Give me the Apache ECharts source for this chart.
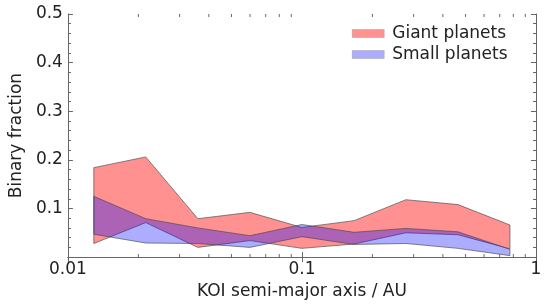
<!DOCTYPE html>
<html>
<head>
<meta charset="utf-8">
<script src="https://cdn.jsdelivr.net/npm/echarts@6/dist/echarts.min.js"></script>
<style>
html,body{margin:0;padding:0;background:#fff;}
#chart{width:546px;height:305px;}
</style>
</head>
<body>
<div id="chart"></div>
<script>
// Bin centres (KOI semi-major axis, AU)
const axisBins = [0.0129, 0.0215, 0.0359, 0.0599, 0.1, 0.167, 0.278, 0.464, 0.774];
// Giant planets binary fraction band
const giantUpper = [0.184, 0.206, 0.079, 0.092, 0.061, 0.075, 0.118, 0.108, 0.066];
const giantLower = [0.028, 0.071, 0.020, 0.034, 0.018, 0.027, 0.050, 0.046, 0.017];
// Small planets binary fraction band
const smallUpper = [0.125, 0.079, 0.060, 0.044, 0.067, 0.051, 0.059, 0.052, 0.016];
const smallLower = [0.047, 0.029, 0.028, 0.020, 0.042, 0.026, 0.028, 0.018, 0.003];
// Log-axis minor tick positions
const xMinorTicks = [0.02,0.03,0.04,0.05,0.06,0.07,0.08,0.09,0.2,0.3,0.4,0.5,0.6,0.7,0.8,0.9];
const seriesNames = ['Giant planets', 'Small planets'];

const FONT = 'DejaVu Sans';
const FS = 17;
const RED = 'rgba(255,0,0,0.43)';
const BLUE = 'rgba(0,0,255,0.32)';
const FRAME = '#666';

function bandRender(upper, lower, fill) {
  return function (params, api) {
    const pts = [];
    for (let i = 0; i < axisBins.length; i++) pts.push(api.coord([axisBins[i], upper[i]]));
    for (let i = axisBins.length - 1; i >= 0; i--) pts.push(api.coord([axisBins[i], lower[i]]));
    return {
      type: 'polygon',
      shape: { points: pts },
      style: { fill: fill, stroke: 'rgba(70,70,70,0.65)', lineWidth: 1 }
    };
  };
}

const chart = echarts.init(document.getElementById('chart'), null, { renderer: 'canvas' });
chart.setOption({
  animation: false,
  textStyle: { fontFamily: FONT },
  grid: { left: 58, right: 10, top: 14, bottom: 45 },
  legend: {
    orient: 'vertical',
    left: 352,
    top: 25,
    padding: 0,
    itemWidth: 32,
    itemHeight: 8,
    itemGap: 4,
    icon: 'rect',
    textStyle: { fontFamily: FONT, fontSize: FS, color: '#222', padding: [0, 0, 0, 3] },
    data: [
      { name: seriesNames[0], itemStyle: { color: RED, borderColor: 'rgba(120,120,120,0.6)', borderWidth: 0.5 } },
      { name: seriesNames[1], itemStyle: { color: BLUE, borderColor: 'rgba(120,120,120,0.6)', borderWidth: 0.5 } }
    ]
  },
  xAxis: [
    {
      type: 'log', logBase: 10, min: 0.01, max: 1,
      name: 'KOI semi-major axis / AU', nameLocation: 'middle', nameGap: 19,
      nameTextStyle: { fontFamily: FONT, fontSize: FS, color: '#222' },
      axisLine: { show: true, lineStyle: { color: FRAME, width: 1 } },
      axisTick: { show: true, inside: true, length: 5, lineStyle: { color: FRAME } },
      axisLabel: { fontFamily: FONT, fontSize: FS, color: '#222', margin: 4,
        formatter: function (v) { return v >= 1 ? '1' : String(+v.toPrecision(1)); } },
      splitLine: { show: false }
    },
    {
      type: 'log', logBase: 10, min: 0.01, max: 1, position: 'top',
      axisLine: { show: true, lineStyle: { color: FRAME, width: 1 } },
      axisTick: { show: true, inside: true, length: 5, lineStyle: { color: FRAME } },
      axisLabel: { show: false },
      splitLine: { show: false }
    }
  ],
  yAxis: [
    {
      type: 'value', min: 0, max: 0.5, interval: 0.1,
      name: 'Binary fraction', nameLocation: 'middle', nameGap: 39,
      nameTextStyle: { fontFamily: FONT, fontSize: FS, color: '#222' },
      axisLine: { show: true, lineStyle: { color: FRAME, width: 1 } },
      axisTick: { show: true, inside: true, length: 5, lineStyle: { color: FRAME } },
      minorTick: { show: true, splitNumber: 5, length: 3, lineStyle: { color: FRAME } },
      axisLabel: { fontFamily: FONT, fontSize: FS, color: '#222', margin: 5,
        formatter: function (v) { return v === 0 ? '' : v.toFixed(1); } },
      splitLine: { show: false }
    },
    {
      type: 'value', min: 0, max: 0.5, interval: 0.1, position: 'right',
      axisLine: { show: true, lineStyle: { color: FRAME, width: 1 } },
      axisTick: { show: true, inside: true, length: 5, lineStyle: { color: FRAME } },
      minorTick: { show: true, splitNumber: 5, length: 3, lineStyle: { color: FRAME } },
      axisLabel: { show: false },
      splitLine: { show: false }
    }
  ],
  series: [
    {
      name: seriesNames[0], type: 'custom', xAxisIndex: 0, yAxisIndex: 0,
      itemStyle: { color: RED },
      data: [[axisBins[0], giantUpper[0]]],
      renderItem: bandRender(giantUpper, giantLower, RED),
      z: 2
    },
    {
      name: seriesNames[1], type: 'custom', xAxisIndex: 0, yAxisIndex: 0,
      itemStyle: { color: BLUE },
      data: [[axisBins[0], smallUpper[0]]],
      renderItem: bandRender(smallUpper, smallLower, BLUE),
      z: 3
    },
    {
      name: 'minorTicks', type: 'custom', xAxisIndex: 0, yAxisIndex: 0,
      silent: true,
      data: xMinorTicks.map(function (t) { return [t, 0]; }),
      renderItem: function (params, api) {
        const t = api.value(0);
        const b = api.coord([t, 0]);
        const top = api.coord([t, 0.5]);
        const st = { stroke: FRAME, lineWidth: 1 };
        return {
          type: 'group',
          children: [
            { type: 'line', shape: { x1: b[0], y1: b[1], x2: b[0], y2: b[1] - 3 }, style: st },
            { type: 'line', shape: { x1: top[0], y1: top[1], x2: top[0], y2: top[1] + 3 }, style: st }
          ]
        };
      },
      z: 5
    }
  ]
});
</script>
</body>
</html>
